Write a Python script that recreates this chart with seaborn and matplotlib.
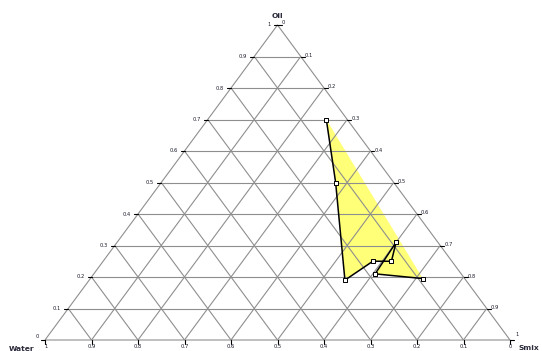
import numpy as np
import pandas as pd
import matplotlib
matplotlib.use("Agg")
import matplotlib.pyplot as plt
import seaborn as sns

# Phase boundary composition (mass fractions)
oil = [0.70, 0.50, 0.19, 0.25, 0.25, 0.31, 0.21, 0.195]
smix = [0.255, 0.375, 0.55, 0.58, 0.62, 0.60, 0.605, 0.715]
water = [0.045, 0.125, 0.26, 0.17, 0.13, 0.09, 0.185, 0.09]

tick_labels = ["0.1", "0.2", "0.3", "0.4", "0.5", "0.6", "0.7", "0.8", "0.9"]
tick_values = [0.1, 0.2, 0.3, 0.4, 0.5, 0.6, 0.7, 0.8, 0.9]
axis_names = ["Oil", "Water", "Smix"]

sns.set_style("white")
plt.rcParams["font.family"] = ["DejaVu Sans"]

W, H = 542, 351
SX, SY = 465.0, 315.0          # pixels per unit along x / y
X0, Y0 = 45.0, 340.0           # pixel position of the Water corner

fig = plt.figure(figsize=(W / 100, H / 100), dpi=100)
ax = fig.add_axes([0, 0, 1, 1])
ax.set_xlim(-X0 / SX, (W - X0) / SX)
ax.set_ylim(-(H - Y0) / SY, Y0 / SY)
ax.axis("off")


def to_xy(o, s):
    o = np.asarray(o, float)
    s = np.asarray(s, float)
    return s + 0.5 * o, o


def px(dx=0.0, dy=0.0):
    return dx / SX, dy / SY


grid_kw = dict(color="#8e8e8e", lw=0.8, zorder=2, solid_capstyle="butt")

# triangle outline
tx, ty = to_xy([0, 0, 1, 0], [0, 1, 0, 0])
ax.plot(tx, ty, **grid_kw)

for v in tick_values:
    # constant oil
    x, y = to_xy([v, v], [0, 1 - v])
    ax.plot(x, y, **grid_kw)
    # constant smix
    x, y = to_xy([0, 1 - v], [v, v])
    ax.plot(x, y, **grid_kw)
    # constant water
    x, y = to_xy([0, 1 - v], [1 - v, 0])
    ax.plot(x, y, **grid_kw)

tick_kw = dict(color="black", lw=0.8, zorder=3)
lab_kw = dict(fontsize=3.7, color="#1a1a2a", zorder=4)
all_vals = [0.0] + tick_values + [1.0]
dx4, _ = px(4)
_, dy4 = px(0, 4)
for v in all_vals:
    # left edge: oil fraction
    x, y = to_xy(v, 0)
    ax.plot([x - dx4, x], [y, y], **tick_kw)
    # right edge: smix fraction
    x, y = to_xy(1 - v, v)
    ax.plot([x, x + dx4], [y, y], **tick_kw)
    # bottom edge: water fraction
    x, y = to_xy(0, 1 - v)
    ax.plot([x, x], [y - dy4, y], **tick_kw)

for v, t in zip(tick_values, tick_labels):
    x, y = to_xy(v, 0)
    ax.text(x - px(7)[0], y, t, ha="right", va="center", **lab_kw)
    x, y = to_xy(1 - v, v)
    ax.text(x + px(4)[0], y + px(0, 1)[1], t, ha="left", va="center", **lab_kw)
    x, y = to_xy(0, 1 - v)
    ax.text(x, y - px(0, 7)[1], t, ha="center", va="center", **lab_kw)

# corner labels
x, y = to_xy(1, 0)
ax.text(x - px(8)[0], y + px(0, 1)[1], "1", ha="center", va="center", **lab_kw)
ax.text(x + px(6)[0], y + px(0, 2)[1], "0", ha="center", va="center", **lab_kw)
x, y = to_xy(0, 0)
ax.text(x - px(8)[0], y + px(0, 3)[1], "0", ha="center", va="center", **lab_kw)
ax.text(x + px(1)[0], y - px(0, 7)[1], "1", ha="center", va="center", **lab_kw)
x, y = to_xy(0, 1)
ax.text(x + px(7)[0], y + px(0, 5)[1], "1", ha="center", va="center", **lab_kw)
ax.text(x, y - px(0, 6)[1], "0", ha="center", va="center", **lab_kw)

name_kw = dict(fontsize=5.4, fontweight="bold", color="#2a2a3a", zorder=4)
x, y = to_xy(1, 0)
ax.text(x, y + px(0, 9)[1], axis_names[0], ha="center", va="center", **name_kw)
x, y = to_xy(0, 0)
ax.text(x - px(23)[0], y - px(0, 9)[1], axis_names[1], ha="center", va="center", **name_kw)
x, y = to_xy(0, 1)
ax.text(x + px(19)[0], y - px(0, 8)[1], axis_names[2], ha="center", va="center", **name_kw)

# boundary region
bx, by = to_xy(oil, smix)
pts = np.column_stack([bx, by])


def seg_intersection(p1, p2, p3, p4):
    d1 = p2 - p1
    d2 = p4 - p3
    den = d1[0] * d2[1] - d1[1] * d2[0]
    if abs(den) < 1e-12:
        return None
    t = ((p3[0] - p1[0]) * d2[1] - (p3[1] - p1[1]) * d2[0]) / den
    u = ((p3[0] - p1[0]) * d1[1] - (p3[1] - p1[1]) * d1[0]) / den
    if 0 < t < 1 and 0 < u < 1:
        return p1 + t * d1
    return None


# even-odd fill: cut out the small self-intersecting loop of the ring
ring = list(pts)
n = len(ring)
poly = ring
for i in range(n):
    for j in range(i + 2, n):
        if i == 0 and j == n - 1:
            continue
        X = seg_intersection(ring[i], ring[(i + 1) % n], ring[j], ring[(j + 1) % n])
        if X is not None:
            poly = ring[: i + 1] + [X] + ring[j + 1:]
            break
    else:
        continue
    break
poly = np.array(poly)
ax.fill(poly[:, 0], poly[:, 1], color="#ffff78", lw=0, zorder=1)

df = pd.DataFrame({"x": bx, "y": by, "order": np.arange(len(bx))})
sns.lineplot(data=df, x="x", y="y", sort=False, estimator=None, color="black",
             lw=1.1, ax=ax, zorder=5)
sns.scatterplot(data=df, x="x", y="y", marker="s", s=6, color="white",
                edgecolor="black", linewidth=0.7, ax=ax, zorder=6)
ax.set_xlim(-X0 / SX, (W - X0) / SX)
ax.set_ylim(-(H - Y0) / SY, Y0 / SY)
ax.axis("off")

fig.savefig("out.png", dpi=100)
